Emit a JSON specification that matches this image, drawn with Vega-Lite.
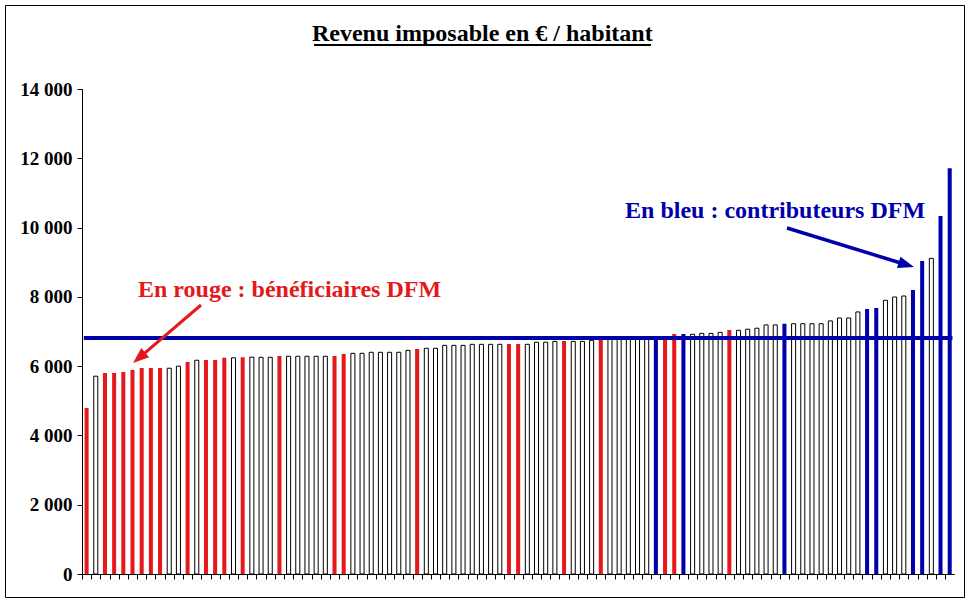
{
  "$schema": "https://vega.github.io/schema/vega-lite/v6.json",
  "width": 959,
  "height": 592,
  "autosize": {"type": "none"},
  "padding": {"left": 5, "top": 5, "right": 6, "bottom": 5},
  "background": "white",
  "config": {
    "view": {"stroke": "black", "strokeWidth": 1},
    "font": "Liberation Serif"
  },
  "datasets": {
    "bars": [
      {"i": 1, "v": 4790, "t": "r"}, {"i": 2, "v": 5710, "t": "w"}, {"i": 3, "v": 5800, "t": "r"}, {"i": 4, "v": 5800, "t": "r"},
      {"i": 5, "v": 5830, "t": "r"}, {"i": 6, "v": 5890, "t": "r"}, {"i": 7, "v": 5950, "t": "r"}, {"i": 8, "v": 5950, "t": "r"},
      {"i": 9, "v": 5950, "t": "r"}, {"i": 10, "v": 5940, "t": "w"}, {"i": 11, "v": 6000, "t": "w"}, {"i": 12, "v": 6120, "t": "r"},
      {"i": 13, "v": 6170, "t": "w"}, {"i": 14, "v": 6180, "t": "r"}, {"i": 15, "v": 6180, "t": "r"}, {"i": 16, "v": 6240, "t": "r"},
      {"i": 17, "v": 6240, "t": "w"}, {"i": 18, "v": 6260, "t": "r"}, {"i": 19, "v": 6260, "t": "w"}, {"i": 20, "v": 6255, "t": "w"},
      {"i": 21, "v": 6255, "t": "w"}, {"i": 22, "v": 6290, "t": "r"}, {"i": 23, "v": 6285, "t": "w"}, {"i": 24, "v": 6285, "t": "w"},
      {"i": 25, "v": 6285, "t": "w"}, {"i": 26, "v": 6285, "t": "w"}, {"i": 27, "v": 6285, "t": "w"}, {"i": 28, "v": 6290, "t": "r"},
      {"i": 29, "v": 6350, "t": "r"}, {"i": 30, "v": 6370, "t": "w"}, {"i": 31, "v": 6370, "t": "w"}, {"i": 32, "v": 6400, "t": "w"},
      {"i": 33, "v": 6400, "t": "w"}, {"i": 34, "v": 6400, "t": "w"}, {"i": 35, "v": 6400, "t": "w"}, {"i": 36, "v": 6455, "t": "w"},
      {"i": 37, "v": 6495, "t": "r"}, {"i": 38, "v": 6515, "t": "w"}, {"i": 39, "v": 6515, "t": "w"}, {"i": 40, "v": 6600, "t": "w"},
      {"i": 41, "v": 6600, "t": "w"}, {"i": 42, "v": 6600, "t": "w"}, {"i": 43, "v": 6630, "t": "w"}, {"i": 44, "v": 6630, "t": "w"},
      {"i": 45, "v": 6630, "t": "w"}, {"i": 46, "v": 6630, "t": "w"}, {"i": 47, "v": 6640, "t": "r"}, {"i": 48, "v": 6640, "t": "r"},
      {"i": 49, "v": 6630, "t": "w"}, {"i": 50, "v": 6690, "t": "w"}, {"i": 51, "v": 6690, "t": "w"}, {"i": 52, "v": 6715, "t": "w"},
      {"i": 53, "v": 6725, "t": "r"}, {"i": 54, "v": 6715, "t": "w"}, {"i": 55, "v": 6715, "t": "w"}, {"i": 56, "v": 6745, "t": "w"},
      {"i": 57, "v": 6780, "t": "r"}, {"i": 58, "v": 6790, "t": "w"}, {"i": 59, "v": 6800, "t": "w"}, {"i": 60, "v": 6800, "t": "w"},
      {"i": 61, "v": 6810, "t": "w"}, {"i": 62, "v": 6820, "t": "w"}, {"i": 63, "v": 6830, "t": "b"}, {"i": 64, "v": 6850, "t": "r"},
      {"i": 65, "v": 6930, "t": "r"}, {"i": 66, "v": 6930, "t": "b"}, {"i": 67, "v": 6920, "t": "w"}, {"i": 68, "v": 6945, "t": "w"},
      {"i": 69, "v": 6945, "t": "w"}, {"i": 70, "v": 6975, "t": "w"}, {"i": 71, "v": 7045, "t": "r"}, {"i": 72, "v": 7035, "t": "w"},
      {"i": 73, "v": 7065, "t": "w"}, {"i": 74, "v": 7095, "t": "w"}, {"i": 75, "v": 7190, "t": "w"}, {"i": 76, "v": 7190, "t": "w"},
      {"i": 77, "v": 7225, "t": "b"}, {"i": 78, "v": 7225, "t": "w"}, {"i": 79, "v": 7225, "t": "w"}, {"i": 80, "v": 7225, "t": "w"},
      {"i": 81, "v": 7225, "t": "w"}, {"i": 82, "v": 7305, "t": "w"}, {"i": 83, "v": 7390, "t": "w"}, {"i": 84, "v": 7390, "t": "w"},
      {"i": 85, "v": 7565, "t": "w"}, {"i": 86, "v": 7650, "t": "b"}, {"i": 87, "v": 7680, "t": "b"}, {"i": 88, "v": 7900, "t": "w"},
      {"i": 89, "v": 7995, "t": "w"}, {"i": 90, "v": 8025, "t": "w"}, {"i": 91, "v": 8200, "t": "b"}, {"i": 92, "v": 9035, "t": "b"},
      {"i": 93, "v": 9110, "t": "w"}, {"i": 94, "v": 10335, "t": "b"}, {"i": 95, "v": 11710, "t": "b"}
    ],
    "meanLine": [{"u": 0.2, "v": 6812, "u2": 94.8, "v2": 6812}],
    "underline": [{"u": 25.27, "v": 15270, "u2": 61.97, "v2": 15270}],
    "title": [{"u": 43.6, "v": 15400, "label": "Revenu imposable en € / habitant"}],
    "redText": [{"u": 6.1, "v": 7996, "label": "En rouge : bénéficiaires DFM"}],
    "blueText": [{"u": 59.14, "v": 10276, "label": "En bleu : contributeurs DFM"}],
    "redArrow": [{"u": 12.96, "v": 7765, "u2": 6.22, "v2": 6241}],
    "redHead": [{"u": 6.22, "v": 6241}],
    "blueArrow": [{"u": 76.78, "v": 9988, "u2": 89.78, "v2": 8928}],
    "blueHead": [{"u": 89.78, "v": 8928}]
  },
  "encoding": {
    "y": {
      "field": "v",
      "type": "quantitative",
      "scale": {"domain": [0, 14000], "range": [569, 84], "nice": false, "zero": false},
      "axis": {
        "values": [0, 2000, 4000, 6000, 8000, 10000, 12000, 14000],
        "labelExpr": "replace(format(datum.value, ','), ',', ' ')",
        "labelFont": "Liberation Serif",
        "labelFontWeight": "bold",
        "labelFontSize": 19,
        "labelColor": "black",
        "labelPadding": 5,
        "domainColor": "black",
        "tickColor": "black",
        "tickSize": 5,
        "grid": false,
        "title": null,
        "offset": -77
      }
    }
  },
  "layer": [
    {
      "data": {"name": "bars"},
      "mark": {"type": "bar", "strokeWidth": 1},
      "encoding": {
        "x": {
          "field": "i",
          "type": "ordinal",
          "scale": {"range": [77, 949.3], "paddingInner": 0.56, "paddingOuter": 0.28},
          "axis": {
            "title": null,
            "labels": false,
            "ticks": true,
            "tickSize": 5,
            "bandPosition": 0,
            "tickOffset": -2.57,
            "domainColor": "black",
            "tickColor": "black",
            "grid": false,
            "offset": -23
          }
        },
        "fill": {
          "field": "t",
          "type": "nominal",
          "scale": {"domain": ["r", "w", "b"], "range": ["#E3191C", "#FFFFFF", "#0000AA"]},
          "legend": null
        },
        "stroke": {
          "field": "t",
          "type": "nominal",
          "scale": {"domain": ["r", "w", "b"], "range": ["transparent", "#000000", "transparent"]},
          "legend": null
        }
      }
    },
    {
      "data": {"name": "meanLine"},
      "mark": {"type": "rule", "color": "#0000AA", "strokeWidth": 4, "strokeCap": "butt"},
      "encoding": {
        "x": {"field": "u", "type": "quantitative", "scale": {"domain": [0, 95], "range": [77, 949.3], "nice": false, "zero": false}, "axis": null},
        "x2": {"field": "u2"},
        "y2": {"field": "v2"}
      }
    },
    {
      "data": {"name": "underline"},
      "mark": {"type": "rule", "color": "black", "strokeWidth": 2, "strokeCap": "butt"},
      "encoding": {
        "x": {"field": "u", "type": "quantitative", "scale": {"domain": [0, 95], "range": [77, 949.3], "nice": false, "zero": false}, "axis": null},
        "x2": {"field": "u2"},
        "y2": {"field": "v2"}
      }
    },
    {
      "data": {"name": "title"},
      "mark": {"type": "text", "font": "Liberation Serif", "fontWeight": "bold", "fontSize": 24, "color": "black", "align": "center", "baseline": "alphabetic"},
      "encoding": {
        "x": {"field": "u", "type": "quantitative", "scale": {"domain": [0, 95], "range": [77, 949.3], "nice": false, "zero": false}, "axis": null},
        "text": {"field": "label"}
      }
    },
    {
      "data": {"name": "redText"},
      "mark": {"type": "text", "font": "Liberation Serif", "fontWeight": "bold", "fontSize": 24, "color": "#E3191C", "align": "left", "baseline": "alphabetic"},
      "encoding": {
        "x": {"field": "u", "type": "quantitative", "scale": {"domain": [0, 95], "range": [77, 949.3], "nice": false, "zero": false}, "axis": null},
        "text": {"field": "label"}
      }
    },
    {
      "data": {"name": "blueText"},
      "mark": {"type": "text", "font": "Liberation Serif", "fontWeight": "bold", "fontSize": 24, "color": "#0000AA", "align": "left", "baseline": "alphabetic"},
      "encoding": {
        "x": {"field": "u", "type": "quantitative", "scale": {"domain": [0, 95], "range": [77, 949.3], "nice": false, "zero": false}, "axis": null},
        "text": {"field": "label"}
      }
    },
    {
      "data": {"name": "redArrow"},
      "mark": {"type": "rule", "color": "#E3191C", "strokeWidth": 3, "strokeCap": "butt"},
      "encoding": {
        "x": {"field": "u", "type": "quantitative", "scale": {"domain": [0, 95], "range": [77, 949.3], "nice": false, "zero": false}, "axis": null},
        "x2": {"field": "u2"},
        "y2": {"field": "v2"}
      }
    },
    {
      "data": {"name": "redHead"},
      "mark": {"type": "point", "shape": "M0,-1L0.75,1L-0.75,1Z", "size": 256, "angle": 229.5, "filled": true, "color": "#E3191C", "opacity": 1, "strokeWidth": 0},
      "encoding": {
        "x": {"field": "u", "type": "quantitative", "scale": {"domain": [0, 95], "range": [77, 949.3], "nice": false, "zero": false}, "axis": null}
      }
    },
    {
      "data": {"name": "blueArrow"},
      "mark": {"type": "rule", "color": "#0000AA", "strokeWidth": 3.5, "strokeCap": "butt"},
      "encoding": {
        "x": {"field": "u", "type": "quantitative", "scale": {"domain": [0, 95], "range": [77, 949.3], "nice": false, "zero": false}, "axis": null},
        "x2": {"field": "u2"},
        "y2": {"field": "v2"}
      }
    },
    {
      "data": {"name": "blueHead"},
      "mark": {"type": "point", "shape": "M0,-1L0.75,1L-0.75,1Z", "size": 256, "angle": 107, "filled": true, "color": "#0000AA", "opacity": 1, "strokeWidth": 0},
      "encoding": {
        "x": {"field": "u", "type": "quantitative", "scale": {"domain": [0, 95], "range": [77, 949.3], "nice": false, "zero": false}, "axis": null}
      }
    }
  ],
  "resolve": {"scale": {"x": "independent"}}
}
